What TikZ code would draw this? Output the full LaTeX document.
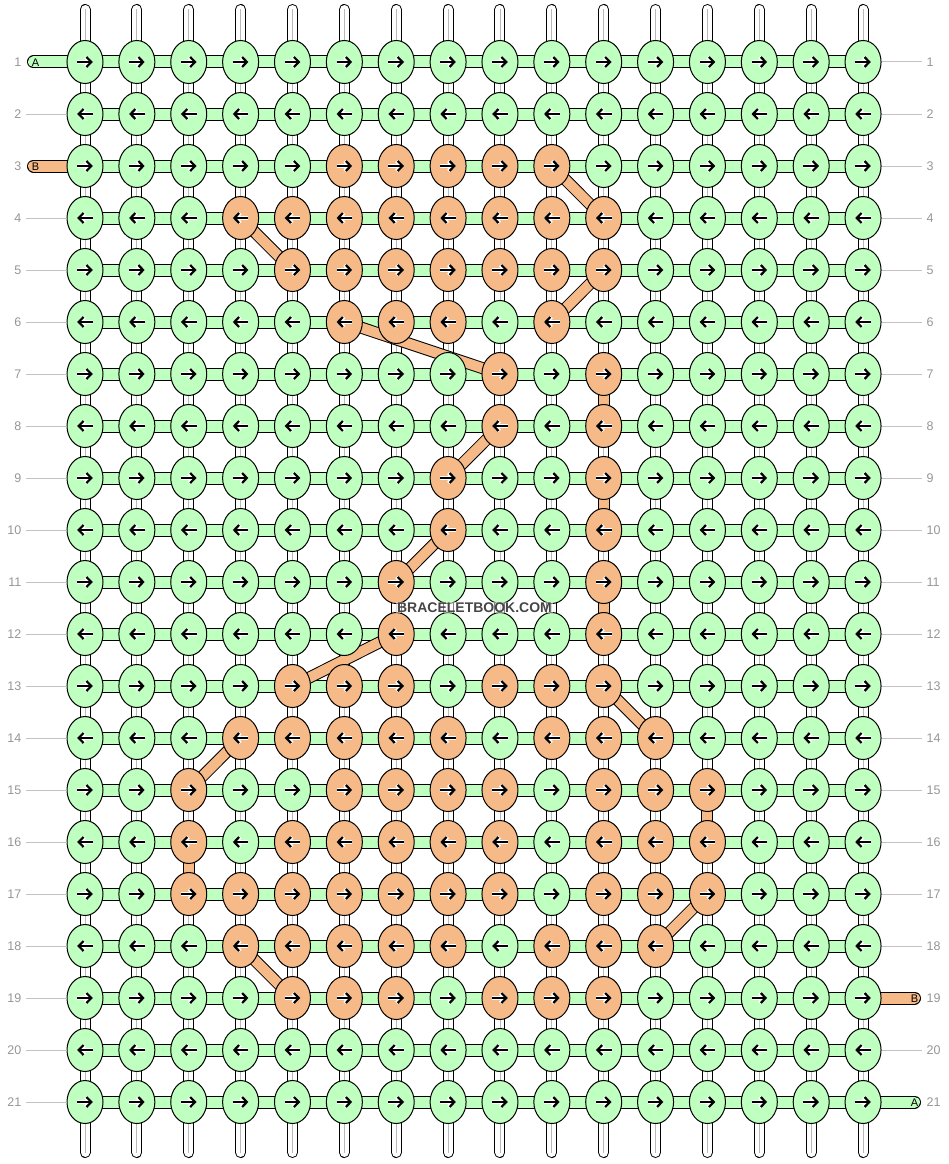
\documentclass[tikz,border=0pt]{standalone}
\usepackage{fontspec}
\setmainfont{Liberation Sans}
\usetikzlibrary{arrows.meta,shapes.geometric}
\pgfdeclarelayer{strings}
\pgfdeclarelayer{hbands}
\pgfdeclarelayer{links}
\pgfdeclarelayer{top}
\pgfsetlayers{strings,hbands,links,main,top}
\definecolor{kgreen}{RGB}{191,255,191}
\definecolor{korange}{RGB}{246,186,136}
\definecolor{numgray}{RGB}{150,150,150}
\definecolor{lgray}{RGB}{195,195,195}
\definecolor{sgray}{RGB}{185,185,185}
\definecolor{wmark}{RGB}{70,70,70}
\tikzset{
 knot/.style={ellipse,draw=black,line width=1pt,minimum width=36pt,minimum height=43pt,inner sep=0pt},
 karrow/.style={line width=2.2pt,-{Straight Barb[length=4.8pt,width=10pt]},preaction={draw=white,line width=3.8pt}},
 vout/.style={draw=black,line width=11pt,line cap=round},
 vin/.style={draw=white,line width=9pt,line cap=round},
 vmid/.style={draw=sgray,line width=0.8pt},
 hband/.style={draw=kgreen,line width=11pt,preaction={draw=black,line width=13pt}},
 gthread/.style={draw=kgreen,line width=11pt,line cap=round,preaction={draw=black,line width=13pt,line cap=round}},
 othread/.style={draw=korange,line width=11pt,line cap=round,preaction={draw=black,line width=13pt,line cap=round}},
 olink/.style={draw=korange,line width=10pt,preaction={draw=black,line width=12pt}},
 numL/.style={anchor=east,inner sep=0pt,text=numgray,font=\fontsize{12.5}{13}\selectfont},
 numR/.style={anchor=west,inner sep=0pt,text=numgray,font=\fontsize{12.5}{13}\selectfont},
 lblline/.style={draw=lgray,line width=1pt},
 tlabel/.style={inner sep=0pt,font=\fontsize{11}{11}\selectfont},
}
% orange knots
\foreach \rr/\cs in {3/{6,7,8,9,10},4/{4,5,6,7,8,9,10,11},5/{5,6,7,8,9,10,11},6/{6,7,8,10},
  7/{9,11},8/{9,11},9/{8,11},10/{8,11},11/{7,11},12/{7,11},13/{5,6,7,9,10,11},
  14/{4,5,6,7,8,10,11,12},15/{3,6,7,8,9,11,12,13},16/{3,5,6,7,8,9,11,12,13},
  17/{3,4,5,6,7,8,9,11,12,13},18/{4,5,6,7,8,10,11,12},19/{5,6,7,9,10,11}}{
  \foreach \cc in \cs {\expandafter\gdef\csname ko-\rr-\cc\endcsname{1}}}
\begin{document}
\begin{tikzpicture}[x=1pt,y=-1pt]
\useasboundingbox (0,0) rectangle (948,1164);
% knots and arrows
\foreach \rr in {1,...,21}{
 \foreach \cc in {1,...,16}{
  \pgfmathsetmacro\xx{85+(\cc-1)*51.87}
  \pgfmathsetmacro\yy{62+(\rr-1)*52}
  \ifcsname ko-\rr-\cc\endcsname\def\kcol{korange}\else\def\kcol{kgreen}\fi
  \node[knot,fill=\kcol] (k-\rr-\cc) at (\xx,\yy) {};
  \ifodd\rr\relax
   \draw[karrow] ([xshift=-7.8pt]k-\rr-\cc.center) -- ([xshift=7.8pt]k-\rr-\cc.center);
  \else
   \draw[karrow] ([xshift=7.8pt]k-\rr-\cc.center) -- ([xshift=-7.8pt]k-\rr-\cc.center);
  \fi
 }}
% vertical strings
\begin{pgfonlayer}{strings}
\foreach \cc in {1,...,16}{
  \pgfmathsetmacro\xx{85+(\cc-1)*51.87}
  \coordinate (vt-\cc) at (\xx,9.5);
  \coordinate (vb-\cc) at (\xx,1152.5);
  \draw[vout] (vt-\cc) -- (vb-\cc);
  \draw[vin] (vt-\cc) -- (vb-\cc);
  \draw[vmid] (vt-\cc) -- (vb-\cc);
}
\end{pgfonlayer}
% horizontal bands and thread ends
\begin{pgfonlayer}{hbands}
\foreach \rr in {1,...,21}{
  \draw[hband] (k-\rr-1.center) -- (k-\rr-16.center);
}
\coordinate (tA1) at (33.5,62);
\coordinate (tB1) at (33.5,166);
\coordinate (tB2) at (914.5,998);
\coordinate (tA2) at (914.5,1102);
\draw[gthread] (tA1) -- (k-1-1.center);
\draw[othread] (tB1) -- (k-3-1.center);
\draw[othread] (k-19-16.center) -- (tB2);
\draw[gthread] (k-21-16.center) -- (tA2);
\end{pgfonlayer}
% orange links
\begin{pgfonlayer}{links}
\foreach \a/\b in {3-10/4-11,4-4/5-5,5-11/6-10,6-6/7-9,7-11/8-11,8-9/9-8,9-11/10-11,
  10-8/11-7,11-11/12-11,12-7/13-5,13-11/14-12,14-4/15-3,15-13/16-13,16-3/17-3,
  17-13/18-12,18-4/19-5}{
  \draw[olink] (k-\a.center) -- (k-\b.center);
}
\end{pgfonlayer}
% labels
\begin{pgfonlayer}{top}
\node[tlabel] (lA1) at (35.5,62.5) {A};
\node[tlabel] (lB1) at (35.5,166.5) {B};
\node[tlabel] (lB2) at (914.5,998.5) {B};
\node[tlabel] (lA2) at (914.5,1102.5) {A};
\foreach \rr in {1,...,21}{
  \pgfmathsetmacro\yy{62+(\rr-1)*52}
  \node[numL] (nl-\rr) at (21.5,\yy) {\rr};
  \node[numR] (nr-\rr) at (926.5,\yy) {\rr};
}
\foreach \rr in {2,4,5,6,7,8,9,10,11,12,13,14,15,16,17,18,19,20,21}{
  \pgfmathsetmacro\yy{62+(\rr-1)*52}
  \coordinate (ll-\rr) at (26,\yy);
  \draw[lblline] (ll-\rr) -- (k-\rr-1.west);
}
\foreach \rr in {1,2,3,4,5,6,7,8,9,10,11,12,13,14,15,16,17,18,20}{
  \pgfmathsetmacro\yy{62+(\rr-1)*52}
  \coordinate (rl-\rr) at (922,\yy);
  \draw[lblline] (k-\rr-16.east) -- (rl-\rr);
}
\node[font=\bfseries\fontsize{14}{14}\selectfont,text=wmark,fill=white,fill opacity=0.5,text opacity=1,inner sep=1pt] (wm) at (474.5,607.5) {BRACELETBOOK.COM};
\end{pgfonlayer}
\end{tikzpicture}
\end{document}
